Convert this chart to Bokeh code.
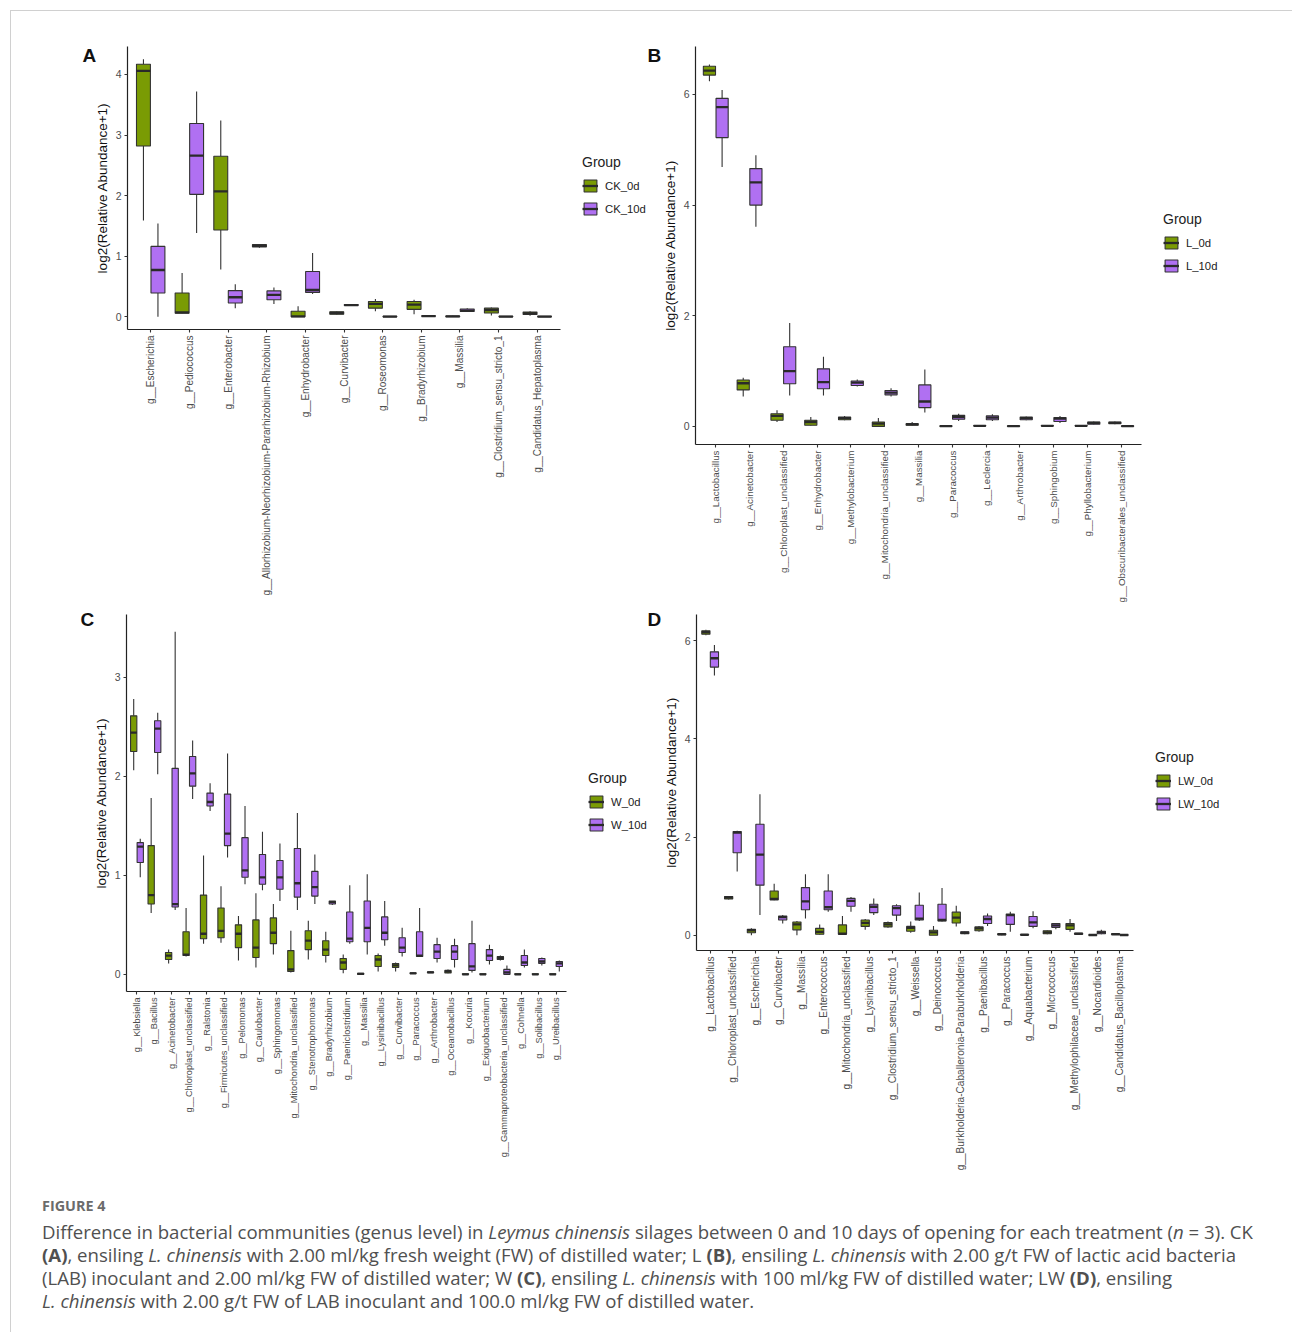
import math
from bokeh.plotting import figure
from bokeh.models import (ColumnDataSource, FactorRange, Range1d, FixedTicker,
                          Legend, LegendItem, Title, Div)
from bokeh.transform import dodge
from bokeh.layouts import row, column
from bokeh.embed import file_html
from bokeh.resources import INLINE

# ---------------------------------------------------------------------------
# Box statistics per genus: (lower whisker, Q1, median, Q3, upper whisker)
# values are log2(relative abundance + 1)
# ---------------------------------------------------------------------------

# Panel A: CK
A_genera = ["g__Escherichia", "g__Pediococcus", "g__Enterobacter",
            "g__Allorhizobium-Neorhizobium-Pararhizobium-Rhizobium",
            "g__Enhydrobacter", "g__Curvibacter", "g__Roseomonas",
            "g__Bradyrhizobium", "g__Massilia", "g__Clostridium_sensu_stricto_1",
            "g__Candidatus_Hepatoplasma"]
CK_0d = [(1.59, 2.82, 4.06, 4.17, 4.25), (0.05, 0.055, 0.07, 0.39, 0.72),
         (0.78, 1.43, 2.07, 2.65, 3.24), (1.14, 1.15, 1.17, 1.19, 1.19),
         (0.0, 0.0, 0.005, 0.09, 0.17), (0.03, 0.04, 0.06, 0.08, 0.09),
         (0.09, 0.14, 0.21, 0.25, 0.29), (0.04, 0.12, 0.20, 0.25, 0.28),
         (0.0, 0.0, 0.005, 0.01, 0.015), (0.02, 0.06, 0.11, 0.14, 0.15),
         (0.016, 0.035, 0.055, 0.075, 0.09)]
CK_10d = [(0.0, 0.39, 0.77, 1.16, 1.54), (1.38, 2.02, 2.66, 3.19, 3.72),
          (0.14, 0.226, 0.32, 0.43, 0.535), (0.21, 0.28, 0.36, 0.425, 0.48),
          (0.375, 0.40, 0.44, 0.745, 1.05), (0.18, 0.185, 0.19, 0.20, 0.20),
          (0.0, 0.0, 0.0, 0.005, 0.005), (0.005, 0.008, 0.01, 0.012, 0.015),
          (0.08, 0.085, 0.10, 0.125, 0.14), (0.0, 0.0, 0.0, 0.005, 0.005),
          (0.0, 0.0, 0.0, 0.005, 0.005)]

# Panel B: L
B_genera = ["g__Lactobacillus", "g__Acinetobacter", "g__Chloroplast_unclassified",
            "g__Enhydrobacter", "g__Methylobacterium", "g__Mitochondria_unclassified",
            "g__Massilia", "g__Paracoccus", "g__Leclercia", "g__Arthrobacter",
            "g__Sphingobium", "g__Phyllobacterium", "g__Obscuribacterales_unclassified"]
L_0d = [(6.24, 6.35, 6.43, 6.51, 6.54), (0.54, 0.66, 0.78, 0.84, 0.88),
        (0.08, 0.11, 0.19, 0.23, 0.29), (0.01, 0.02, 0.08, 0.11, 0.17),
        (0.11, 0.12, 0.15, 0.17, 0.19), (0.0, 0.0, 0.05, 0.08, 0.15),
        (0.01, 0.02, 0.035, 0.05, 0.08), (0.0, 0.0, 0.005, 0.01, 0.01),
        (0.005, 0.008, 0.01, 0.015, 0.02), (0.0, 0.0, 0.005, 0.01, 0.01),
        (0.005, 0.008, 0.01, 0.015, 0.02), (0.005, 0.008, 0.01, 0.015, 0.02),
        (0.04, 0.05, 0.065, 0.08, 0.09)]
L_10d = [(4.69, 5.22, 5.77, 5.93, 6.08), (3.61, 4.0, 4.41, 4.66, 4.9),
         (0.56, 0.77, 1.0, 1.44, 1.87), (0.56, 0.68, 0.8, 1.04, 1.26),
         (0.72, 0.74, 0.79, 0.82, 0.85), (0.54, 0.57, 0.61, 0.65, 0.69),
         (0.25, 0.34, 0.45, 0.75, 1.03), (0.1, 0.13, 0.17, 0.2, 0.23),
         (0.1, 0.12, 0.16, 0.19, 0.22), (0.11, 0.12, 0.15, 0.17, 0.18),
         (0.06, 0.09, 0.14, 0.16, 0.19), (0.03, 0.04, 0.065, 0.08, 0.09),
         (0.0, 0.0, 0.005, 0.01, 0.01)]

# Panel C: W
C_genera = ["g__Klebsiella", "g__Bacillus", "g__Acinetobacter",
            "g__Chloroplast_unclassified", "g__Ralstonia", "g__Firmicutes_unclassified",
            "g__Pelomonas", "g__Caulobacter", "g__Sphingomonas",
            "g__Mitochondria_unclassified", "g__Stenotrophomonas", "g__Bradyrhizobium",
            "g__Paeniclostridium", "g__Massilia", "g__Lysinibacillus", "g__Curvibacter",
            "g__Paracoccus", "g__Arthrobacter", "g__Oceanobacillus", "g__Kocuria",
            "g__Exiguobacterium", "g__Gammaproteobacteria_unclassified", "g__Cohnella",
            "g__Solibacillus", "g__Ureibacillus"]
W_0d = [(2.06, 2.25, 2.44, 2.61, 2.78), (0.62, 0.71, 0.80, 1.30, 1.78),
        (0.11, 0.15, 0.19, 0.22, 0.25), (0.18, 0.19, 0.20, 0.43, 0.67),
        (0.31, 0.36, 0.41, 0.80, 1.20), (0.32, 0.37, 0.44, 0.67, 0.89),
        (0.14, 0.27, 0.41, 0.50, 0.59), (0.07, 0.17, 0.27, 0.55, 0.82),
        (0.20, 0.31, 0.42, 0.57, 0.71), (0.02, 0.03, 0.05, 0.24, 0.44),
        (0.15, 0.25, 0.34, 0.44, 0.54), (0.12, 0.19, 0.25, 0.34, 0.43),
        (0.01, 0.05, 0.12, 0.16, 0.20), (0.0, 0.0, 0.005, 0.01, 0.015),
        (0.03, 0.08, 0.15, 0.19, 0.21), (0.03, 0.07, 0.09, 0.11, 0.12),
        (0.005, 0.008, 0.01, 0.015, 0.02), (0.015, 0.018, 0.02, 0.025, 0.03),
        (0.01, 0.015, 0.03, 0.04, 0.05), (0.0, 0.0, 0.0, 0.005, 0.005),
        (0.0, 0.0, 0.0, 0.005, 0.005), (0.14, 0.15, 0.165, 0.18, 0.19),
        (0.0, 0.0, 0.0, 0.005, 0.005), (0.0, 0.0, 0.0, 0.005, 0.005),
        (0.0, 0.0, 0.0, 0.005, 0.005)]
W_10d = [(0.98, 1.13, 1.29, 1.33, 1.37), (2.02, 2.24, 2.48, 2.56, 2.64),
         (0.65, 0.68, 0.71, 2.08, 3.46), (1.77, 1.90, 2.03, 2.20, 2.36),
         (1.65, 1.70, 1.74, 1.83, 1.93), (1.18, 1.30, 1.42, 1.82, 2.23),
         (0.91, 0.98, 1.05, 1.38, 1.70), (0.85, 0.91, 0.98, 1.21, 1.44),
         (0.74, 0.86, 0.98, 1.15, 1.32), (0.65, 0.78, 0.92, 1.27, 1.63),
         (0.71, 0.79, 0.88, 1.04, 1.21), (0.70, 0.71, 0.73, 0.74, 0.74),
         (0.31, 0.33, 0.36, 0.63, 0.90), (0.20, 0.33, 0.47, 0.74, 1.01),
         (0.29, 0.35, 0.42, 0.58, 0.74), (0.18, 0.22, 0.27, 0.37, 0.47),
         (0.18, 0.18, 0.19, 0.43, 0.67), (0.12, 0.16, 0.23, 0.30, 0.37),
         (0.07, 0.15, 0.23, 0.29, 0.36), (0.02, 0.04, 0.08, 0.31, 0.54),
         (0.10, 0.14, 0.19, 0.25, 0.30), (0.0, 0.0, 0.02, 0.05, 0.09),
         (0.07, 0.09, 0.12, 0.19, 0.25), (0.09, 0.11, 0.13, 0.16, 0.17),
         (0.03, 0.08, 0.11, 0.13, 0.14)]

# Panel D: LW
D_genera = ["g__Lactobacillus", "g__Chloroplast_unclassified", "g__Escherichia",
            "g__Curvibacter", "g__Massilia", "g__Enterococcus",
            "g__Mitochondria_unclassified", "g__Lysinibacillus",
            "g__Clostridium_sensu_stricto_1", "g__Weissella", "g__Deinococcus",
            "g__Burkholderia-Caballeronia-Paraburkholderia", "g__Paenibacillus",
            "g__Paracoccus", "g__Aquabacterium", "g__Micrococcus",
            "g__Methylophilaceae_unclassified", "g__Nocardioides",
            "g__Candidatus_Bacilloplasma"]
LW_0d = [(6.11, 6.13, 6.17, 6.20, 6.22), (0.73, 0.74, 0.77, 0.79, 0.80),
         (0.0, 0.05, 0.10, 0.12, 0.14), (0.71, 0.72, 0.74, 0.90, 1.05),
         (0.0, 0.11, 0.22, 0.27, 0.29), (0.01, 0.02, 0.07, 0.14, 0.22),
         (0.01, 0.02, 0.03, 0.21, 0.39), (0.11, 0.18, 0.25, 0.31, 0.33),
         (0.15, 0.17, 0.22, 0.26, 0.28), (0.05, 0.08, 0.15, 0.18, 0.28),
         (0.0, 0.0, 0.06, 0.10, 0.19), (0.18, 0.25, 0.36, 0.47, 0.60),
         (0.07, 0.09, 0.14, 0.17, 0.19), (0.0, 0.01, 0.02, 0.03, 0.04),
         (0.0, 0.005, 0.01, 0.015, 0.02), (0.02, 0.03, 0.06, 0.09, 0.10),
         (0.07, 0.12, 0.20, 0.24, 0.33), (0.0, 0.0, 0.005, 0.01, 0.01),
         (0.01, 0.015, 0.02, 0.03, 0.03)]
LW_10d = [(5.29, 5.46, 5.64, 5.77, 5.91), (1.30, 1.68, 2.09, 2.11, 2.13),
          (0.41, 1.02, 1.64, 2.26, 2.87), (0.24, 0.31, 0.37, 0.39, 0.41),
          (0.34, 0.52, 0.69, 0.97, 1.24), (0.48, 0.52, 0.57, 0.90, 1.24),
          (0.48, 0.59, 0.70, 0.75, 0.78), (0.41, 0.46, 0.58, 0.63, 0.75),
          (0.29, 0.41, 0.55, 0.60, 0.63), (0.29, 0.31, 0.34, 0.61, 0.87),
          (0.28, 0.29, 0.31, 0.63, 0.96), (0.02, 0.03, 0.05, 0.07, 0.08),
          (0.19, 0.24, 0.33, 0.39, 0.44), (0.07, 0.22, 0.41, 0.43, 0.48),
          (0.14, 0.18, 0.26, 0.38, 0.49), (0.12, 0.16, 0.20, 0.24, 0.25),
          (0.01, 0.02, 0.03, 0.04, 0.04), (0.02, 0.03, 0.06, 0.08, 0.11),
          (0.0, 0.0, 0.005, 0.01, 0.01)]

A_ticks = [0, 1, 2, 3, 4]
B_ticks = [0, 2, 4, 6]
C_ticks = [0, 1, 2, 3]
D_ticks = [0, 2, 4, 6]

# ---------------------------------------------------------------------------
GREEN = "#7a9b04"
PURPLE = "#b070f2"
EDGE = "#333333"
FONT = "Liberation Sans"
BOX_W = 0.36
OFFSETS = (-0.1875, 0.1875)


def box_source(genera, stats):
    low, q1, med, q3, high = zip(*stats)
    return ColumnDataSource(dict(genus=list(genera), low=list(low), q1=list(q1),
                                 med=list(med), q3=list(q3), high=list(high)))


def panel(genera, series, names, yticks, frame_w, frame_h, left, right, top, bottom,
          xfont, legend_at, letter):
    values = [v for s in series for t in s for v in t]
    lo, hi = min(values), max(values)
    pad = 0.05 * (hi - lo)
    p = figure(frame_width=frame_w, frame_height=frame_h,
               x_range=FactorRange(factors=genera, range_padding=0.2 / len(genera)),
               y_range=Range1d(lo - pad, hi + pad),
               output_backend="svg", toolbar_location=None,
               min_border_left=left, min_border_right=right,
               min_border_top=top, min_border_bottom=bottom)
    p.xgrid.visible = False
    p.ygrid.visible = False
    p.outline_line_color = None
    p.background_fill_color = "white"
    p.border_fill_color = "white"

    items = []
    for stats, name, color, off in zip(series, names, (GREEN, PURPLE), OFFSETS):
        src = box_source(genera, stats)
        xc = dodge("genus", off, range=p.x_range)
        p.segment(x0=xc, x1=xc, y0="low", y1="q1", source=src,
                  line_color=EDGE, line_width=1.1)
        p.segment(x0=xc, x1=xc, y0="q3", y1="high", source=src,
                  line_color=EDGE, line_width=1.1)
        box = p.vbar(x=xc, width=BOX_W, bottom="q1", top="q3", source=src,
                     fill_color=color, line_color=EDGE, line_width=1.1)
        med = p.segment(x0=dodge("genus", off - BOX_W / 2, range=p.x_range),
                        x1=dodge("genus", off + BOX_W / 2, range=p.x_range),
                        y0="med", y1="med", source=src,
                        line_color="#2a2a2a", line_width=2.3)
        items.append(LegendItem(label=name, renderers=[box, med]))

    legend = Legend(items=items, title="Group", location=legend_at,
                    margin=0, padding=0, spacing=8, glyph_width=16, glyph_height=15,
                    label_standoff=7, label_height=15, border_line_color=None,
                    background_fill_alpha=0,
                    title_text_font=FONT, title_text_font_size="14px",
                    title_text_font_style="normal", title_text_color="#222222",
                    title_standoff=8,
                    label_text_font=FONT, label_text_font_size="11.3px",
                    label_text_color="#222222")
    p.add_layout(legend, "right")

    # panel letter as a title pulled down beside the top of the y axis
    text, offset, standoff = letter
    p.add_layout(Title(text=text, align="left", offset=offset, standoff=standoff,
                       vertical_align="bottom", text_font=FONT,
                       text_font_size="19px", text_font_style="bold",
                       text_color="#111111"), "above")

    for ax in (p.xaxis[0], p.yaxis[0]):
        ax.axis_line_color = "#222222"
        ax.axis_line_width = 1.2
        ax.major_tick_line_color = "#333333"
        ax.major_tick_line_width = 1.1
        ax.major_tick_out = 3
        ax.major_tick_in = 0
        ax.minor_tick_line_color = None
        ax.major_label_text_font = FONT
        ax.major_label_text_color = "#4d4d4d"
        ax.major_label_standoff = 3

    p.yaxis.ticker = FixedTicker(ticks=yticks)
    p.yaxis.major_label_text_font_size = "10.5px"
    p.yaxis.axis_label = "log2(Relative Abundance+1)"
    p.yaxis.axis_label_text_font = FONT
    p.yaxis.axis_label_text_font_size = "13.5px"
    p.yaxis.axis_label_text_font_style = "normal"
    p.yaxis.axis_label_text_color = "#111111"
    p.yaxis.axis_label_standoff = 3

    p.xaxis.major_label_orientation = math.pi / 2
    p.xaxis.major_label_text_font_size = xfont
    return p


pA = panel(A_genera, (CK_0d, CK_10d), ("CK_0d", "CK_10d"), A_ticks,
           433, 283, 116, 87, 35, 275, "10px", (22, 113), ("A", -45, -38))
pB = panel(B_genera, (L_0d, L_10d), ("L_0d", "L_10d"), B_ticks,
           446, 398, 48, 151, 33, 162, "9.8px", (22, 171), ("B", -48, -38))
pC = panel(C_genera, (W_0d, W_10d), ("W_0d", "W_10d"), C_ticks,
           440, 377, 115, 81, 10, 194, "9.2px", (22, 159), ("C", -46, -30))
pD = panel(D_genera, (LW_0d, LW_10d), ("LW_0d", "LW_10d"), D_ticks,
           437, 336, 49, 159, 10, 235, "10.1px", (22, 139), ("D", -49, -30))

caption_html = (
    '<div style="font-family:\'Open Sans\',\'Lato\',sans-serif;color:#505050;'
    'padding-left:31px;white-space:nowrap;">'
    '<div style="font-size:14.4px;font-weight:700;color:#6b6b6b;line-height:19px;'
    'margin-top:11px;">FIGURE 4</div>'
    '<div style="font-size:18.6px;line-height:23px;margin-top:5px;">'
    'Difference in bacterial communities (genus level) in <i>Leymus chinensis</i> '
    'silages between 0 and 10 days of opening for each treatment (<i>n</i> = 3). CK<br>'
    '<b>(A)</b>, ensiling <i>L. chinensis</i> with 2.00 ml/kg fresh weight (FW) of '
    'distilled water; L <b>(B)</b>, ensiling <i>L. chinensis</i> with 2.00 g/t FW of '
    'lactic acid bacteria<br>'
    '(LAB) inoculant and 2.00 ml/kg FW of distilled water; W <b>(C)</b>, ensiling '
    '<i>L. chinensis</i> with 100 ml/kg FW of distilled water; LW <b>(D)</b>, ensiling<br>'
    '<i>L. chinensis</i> with 2.00 g/t FW of LAB inoculant and 100.0 ml/kg FW of '
    'distilled water.'
    '</div></div>'
)
caption = Div(text=caption_html, width=1281, height=146, margin=0)

rule = "#d0d0d0"
top_gap = Div(text="", width=1292, height=10, margin=0)
left_gap = Div(text="", width=10, height=1322, margin=0)
top_line = Div(text="", width=1282, height=1, margin=0,
               styles={"background-color": rule})
left_line = Div(text="", width=1, height=1321, margin=0,
                styles={"background-color": rule})

content = column(row(pA, pB), row(pC, pD), caption)
layout = column(top_gap, row(left_gap, column(top_line, row(left_line, content))))

open("out.html", "w").write(file_html(layout, INLINE))
